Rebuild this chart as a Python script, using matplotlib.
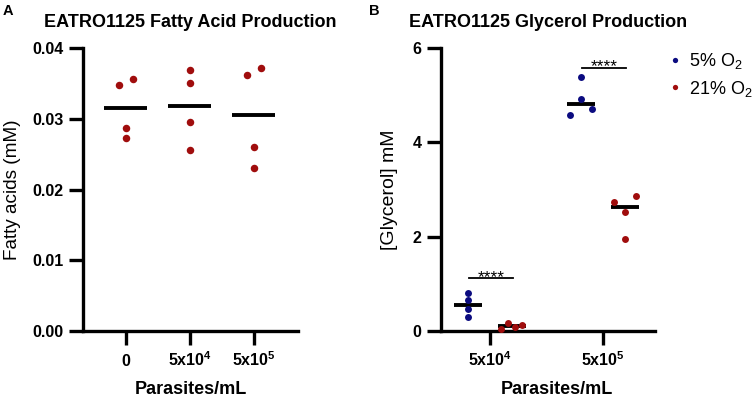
import numpy as np
import matplotlib
matplotlib.use("Agg")
import matplotlib.pyplot as plt
from matplotlib.lines import Line2D

plt.rcParams['font.family'] = ['Liberation Sans', 'DejaVu Sans']
plt.rcParams['mathtext.fontset'] = 'custom'
plt.rcParams['mathtext.rm'] = 'Liberation Sans'
plt.rcParams['mathtext.bf'] = 'Liberation Sans:bold'
plt.rcParams['mathtext.default'] = 'regular'

BLUE = '#0b0b80'
RED = '#a00d0d'

# panel A: fatty acids (mM), line = mean
fa_groups = ['0', '5x10$^{4}$', '5x10$^{5}$']
fa_values = [
    [0.0347, 0.0356, 0.0287, 0.0273],
    [0.0369, 0.0351, 0.0296, 0.0256],
    [0.0362, 0.0372, 0.0260, 0.0230],
]

# panel B: glycerol (mM), line = median
gly_groups = ['5x10$^{4}$', '5x10$^{5}$']
gly_5 = [
    [0.81, 0.65, 0.47, 0.30],
    [5.39, 4.92, 4.57, 4.70],
]
gly_21 = [
    [0.04, 0.16, 0.085, 0.13],
    [2.73, 2.86, 2.52, 1.96],
]
sig_labels = ['****', '****']
sig_heights = [1.12, 5.58]


def swarm(ax, center, vals, width, diam_px):
    # spread points that would overlap, roughly like Prism does
    vals = np.asarray(vals, float)
    ypx = ax.transData.transform(np.c_[np.zeros(len(vals)), vals])[:, 1]
    order = np.argsort(ypx)
    xs = np.full(len(vals), float(center))

    def flush(c):
        if len(c) > 1:
            c = sorted(c)
            xs[c] = center + np.linspace(-width / 2, width / 2, len(c))

    cluster = [order[0]]
    for i in order[1:]:
        if ypx[i] - ypx[cluster[-1]] < diam_px * 1.1:
            cluster.append(i)
        else:
            flush(cluster)
            cluster = [i]
    flush(cluster)
    return xs


def style_axes(ax):
    for s in ['top', 'right']:
        ax.spines[s].set_visible(False)
    for s in ['left', 'bottom']:
        ax.spines[s].set_linewidth(2.4)
    ax.tick_params(width=2.4, length=10, labelsize=11.5)
    ax.tick_params(axis='y', pad=4)
    ax.tick_params(axis='x', pad=15)
    for lab in ax.get_xticklabels() + ax.get_yticklabels():
        lab.set_fontweight('bold')
    for lab in ax.get_xticklabels():
        lab.set_verticalalignment('baseline')


fig = plt.figure(figsize=(7.53, 4.01), dpi=100)
W, H = 753, 401

# ---- A ----
ax = fig.add_axes([83 / W, 70 / H, 215 / W, 283 / H])
ax.set_xlim(-0.67, 2.69)
ax.set_ylim(0, 0.04)
ax.set_yticks([0, 0.01, 0.02, 0.03, 0.04])
ax.set_yticklabels(['%.2f' % t for t in ax.get_yticks()])
ax.set_xticks(range(len(fa_groups)))
ax.set_xticklabels(fa_groups)
for i, vals in enumerate(fa_values):
    xs = swarm(ax, i, vals, 0.21, 6.9)
    ax.plot(xs, vals, 'o', ms=5.4, color=RED, mec='none', zorder=3, clip_on=False)
    m = np.mean(vals)
    ax.plot([i - 0.335, i + 0.335], [m, m], color='black', lw=2.8, zorder=2,
            solid_capstyle='butt')
style_axes(ax)
ax.set_title('EATRO1125 Fatty Acid Production', fontsize=13, fontweight='bold', pad=15)
ax.set_ylabel('Fatty acids (mM)', fontsize=13.7)
ax.yaxis.set_label_coords(-0.288, 0.5)
ax.set_xlabel('Parasites/mL', fontsize=13, fontweight='bold')
ax.xaxis.set_label_coords(0.5, -0.176)

# ---- B ----
bx = fig.add_axes([441 / W, 70 / H, 214 / W, 283 / H])
bx.set_xlim(-0.43, 1.46)
bx.set_ylim(0, 6)
bx.set_yticks([0, 2, 4, 6])
bx.set_xticks(range(len(gly_groups)))
bx.set_xticklabels(gly_groups)
off = 0.193
for i in range(len(gly_groups)):
    for vals, col, dx in [(gly_5[i], BLUE, -off), (gly_21[i], RED, off)]:
        xs = swarm(bx, i + dx, vals, 0.19, 6.25)
        bx.plot(xs, vals, 'o', ms=5, color=col, mec='none', zorder=3, clip_on=False)
        m = np.median(vals)
        bx.plot([i + dx - 0.124, i + dx + 0.124], [m, m], color='black', lw=2.8,
                zorder=2, solid_capstyle='butt')
    h = sig_heights[i]
    bx.plot([i - off + 0.01, i + off + 0.01], [h, h], color='black', lw=1.3)
    bx.annotate(sig_labels[i], (i + 0.01, h), xytext=(0, -2.6), textcoords='offset points',
                ha='center', va='baseline', fontsize=12.5)
style_axes(bx)
bx.set_title('EATRO1125 Glycerol Production', fontsize=13, fontweight='bold', pad=15)
bx.set_ylabel('[Glycerol] mM', fontsize=14)
bx.yaxis.set_label_coords(-0.2, 0.5)
bx.set_xlabel('Parasites/mL', fontsize=13, fontweight='bold')
bx.xaxis.set_label_coords(0.54, -0.176)

handles = [Line2D([], [], ls='none', marker='o', ms=3.8, color=BLUE, mec='none'),
           Line2D([], [], ls='none', marker='o', ms=3.8, color=RED, mec='none')]
fig.legend(handles, ['5% O$_2$', '21% O$_2$'], loc='upper left',
           bbox_to_anchor=(670 / W, 1 - 51 / H), frameon=False, fontsize=13,
           handlelength=0.5, handletextpad=0.55, borderpad=0, borderaxespad=0,
           labelspacing=0.42)

fig.text(3 / W, 1 - 15 / H, 'A', fontsize=10.5, fontweight='bold', va='baseline')
fig.text(369 / W, 1 - 15 / H, 'B', fontsize=10.5, fontweight='bold', va='baseline')

fig.savefig('out.png', dpi=100)
